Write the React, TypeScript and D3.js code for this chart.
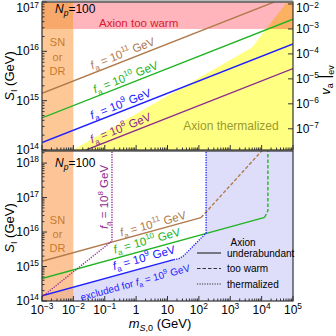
import React from 'react';
import * as d3 from 'd3';

// all curve data in log10 units: x = log10(m_S,0 / GeV), y = log10(S_I / GeV)
const faExponents = [11, 10, 9, 8];
const faColors = ['#b07a4c', '#22b422', '#2020ff', '#8e2a8e'];
const faIntercepts = [15.15, 14.65, 14.15, 13.65]; // log S_I at m = 1e-3 GeV
const faSlope = 0.25;

const xTickExps = [-3, -2, -1, 0, 1, 2, 3, 4, 5];
const topYTickExps = [14, 15, 16, 17];
const velTickExps = [-7, -6, -5, -4, -3, -2];
const botYTickExps = [14, 15, 16, 17, 18];

const snEdge = -2;
const warmVel = -3;
const thermalBoundary = [[-2.01, 14], [3.69, 16.08], [4.14, 16.45], [4.81, 17]];

// lower panel: where each curve stops being underabundant
const solidEnds = [2.07, 4.1, 1.2];
const brownWarm = [[2.07, 16.42], [4.1, 18.45]];
const greenWarm = [[4.1, 16.43], [4.2, 16.62], [4.2, 18.5]];
const blueTherm = [[1.2, 15.2], [1.35, 15.22], [1.5, 15.3], [2.23, 15.97], [2.23, 18.5]];
const purpleTherm = [[-3, 14.12], [-0.77, 15.74], [-0.77, 18.5]];

const font = 'Arial, "Liberation Sans", Helvetica, sans-serif';

const L = 42, R = 293;
const x = d3.scaleLinear().domain([-3, 5]).range([L, R]);
const yTop = d3.scaleLinear().domain([14, 17]).range([150, 2]);
const vel = d3.scaleLinear().domain([-7.85, -1.92]).range([150, 2]);
const yBot = d3.scaleLinear().domain([14, 18.35]).range([301, 151]);

const minus = (e: number) => (e < 0 ? '\u2212' + Math.abs(e) : String(e));

const Pow = ({ px, py, e, anchor = 'middle', size = 12, plain = false, rise = 5 }: any) => (
  <text x={px} y={py} textAnchor={anchor} fontSize={size} fontFamily={font} fill="#000">
    {plain && e === 0 ? '1' : plain && e === 1 ? '10' : (
      <>
        <tspan>10</tspan>
        <tspan dy={-rise} fontSize={size * 0.7}>{minus(e)}</tspan>
      </>
    )}
  </text>
);

const FaLabel = ({ e, color, tx, ty, angle, size = 11.5 }: any) => (
  <text transform={`translate(${tx},${ty}) rotate(${-angle})`} textAnchor="middle"
    fontSize={size} fontFamily={font} fill={color}>
    <tspan fontStyle="italic">f</tspan>
    <tspan dy={3} fontSize={size * 0.7}>a</tspan>
    <tspan dy={-3}> = 10</tspan>
    <tspan dy={-5} fontSize={size * 0.7}>{e}</tspan>
    <tspan dy={5}> GeV</tspan>
  </text>
);

const minorTicks = (lo: number, hi: number) => {
  const out: number[] = [];
  for (let e = lo; e < hi; e++) for (let k = 2; k < 10; k++) out.push(e + Math.log10(k));
  return out;
};

export default function App() {
  const lineTop = d3.line<number[]>().x(d => x(d[0])).y(d => yTop(d[1]));
  const lineBot = d3.line<number[]>().x(d => x(d[0])).y(d => yBot(d[1]));
  const faLine = (i: number, end: number) => [[-3, faIntercepts[i]], [end, faIntercepts[i] + faSlope * (end + 3)]];

  const angTop = (Math.atan(faSlope * 148 / 3 / (251 / 8)) * 180) / Math.PI;
  const angBot = (Math.atan(faSlope * 150 / 4.35 / (251 / 8)) * 180) / Math.PI;

  const thermPoly = [...thermalBoundary, [5, 17], [5, 14]];
  const warmY = vel(warmVel);

  const blueSolid = faLine(2, solidEnds[2]);
  const lavender = [[-3, 14], ...blueSolid, ...blueTherm, [5, 18.5], [5, 14]];

  const xMinor = minorTicks(-3, 5);
  const lw = 1.4;

  return (
    <svg width={336} height={336} style={{ position: 'absolute', left: 0, top: 0 }}>
      <defs>
        <clipPath id="cTop"><rect x={L} y={2} width={R - L} height={148} /></clipPath>
        <clipPath id="cBot"><rect x={L} y={151} width={R - L} height={150} /></clipPath>
        <clipPath id="cCold"><rect x={L} y={warmY} width={R - L} height={150 - warmY} /></clipPath>
        <clipPath id="cWarm"><rect x={L} y={2} width={R - L} height={warmY - 2} /></clipPath>
      </defs>
      <rect width={336} height={336} fill="#fff" />

      {/* ---------- top panel ---------- */}
      <g clipPath="url(#cTop)">
        <rect x={x(-3)} y={2} width={x(snEdge) - x(-3)} height={148} fill="#fdc896" />
        <rect x={x(snEdge)} y={2} width={R - x(snEdge)} height={warmY - 2} fill="#ffb5bb" />
        <rect x={x(-3)} y={2} width={x(snEdge) - x(-3)} height={warmY - 2} fill="#f8a86a" />
        <path d={lineTop(thermPoly as any) + 'Z'} fill="#ffff82" clipPath="url(#cCold)" />
        <path d={lineTop(thermPoly as any) + 'Z'} fill="#fbb062" clipPath="url(#cWarm)" />
        {faExponents.map((e, i) => (
          <path key={e} d={lineTop(faLine(i, 5) as any) || ''} fill="none" stroke={faColors[i]} strokeWidth={lw} />
        ))}
      </g>
      <rect x={L} y={2} width={R - L} height={148} fill="none" stroke="#333" strokeWidth={1.2} />
      <line x1={L} x2={R} y1={1.5} y2={1.5} stroke="#777" strokeWidth={2} />
      {topYTickExps.map(e => (
        <g key={e}>
          <line x1={L} x2={L + 5} y1={yTop(e)} y2={yTop(e)} stroke="#333" />
          <Pow px={L - 3} py={Math.max(yTop(e) + 4, 12)} e={e} anchor="end" rise={e === 17 ? 4 : 5} />
        </g>
      ))}
      {minorTicks(14, 17).map(v => (
        <line key={v} x1={L} x2={L + 2.5} y1={yTop(v)} y2={yTop(v)} stroke="#333" />
      ))}
      {velTickExps.map(e => (
        <g key={e}>
          <line x1={R - 5} x2={R} y1={vel(e)} y2={vel(e)} stroke="#333" />
          <Pow px={R + 3} py={Math.max(vel(e) + 4, 12)} e={e} anchor="start" rise={e === -2 ? 4 : 5} />
        </g>
      ))}
      {xTickExps.map(e => (
        <line key={e} x1={x(e)} x2={x(e)} y1={150} y2={145} stroke="#333" />
      ))}
      {xMinor.map(v => (
        <line key={v} x1={x(v)} x2={x(v)} y1={150} y2={147.5} stroke="#333" />
      ))}

      <text x={55} y={13} fontSize={12} fontFamily={font}>
        <tspan fontStyle="italic">N</tspan>
        <tspan dy={3} fontSize={8.5} fontStyle="italic">p</tspan>
        <tspan dy={-3}>=100</tspan>
      </text>
      <text x={99} y={27} fontSize={11.5} fontFamily={font} fill="#d81a32">Axion too warm</text>
      {['SN', 'or', 'DR'].map((t, i) => (
        <text key={t} x={57.5} y={46 + i * 14.5} textAnchor="middle" fontSize={11} fontFamily={font} fill="#c77a2e">{t}</text>
      ))}
      <text x={231} y={130} textAnchor="middle" fontSize={12} fontFamily={font} fill="#9a9a2e">Axion thermalized</text>
      {[[124, 4], [127, 3.5], [122, 3.5], [122, 4]].map(([cx, off], i) => {
        const lm = x.invert(cx);
        const ly = yTop(faIntercepts[i] + faSlope * (lm + 3));
        return <FaLabel key={i} e={faExponents[i]} color={faColors[i]} tx={cx} ty={ly - off} angle={angTop} />;
      })}

      {/* ---------- bottom panel ---------- */}
      <g clipPath="url(#cBot)">
        <path d={lineBot(lavender as any) + 'Z'} fill="#dedefa" />
        <rect x={x(-3)} y={151} width={x(snEdge) - x(-3)} height={150} fill="#fca257" opacity={0.62} />
        {[0, 1, 2].map(i => (
          <path key={i} d={lineBot(faLine(i, solidEnds[i]) as any) || ''} fill="none" stroke={faColors[i]} strokeWidth={lw} />
        ))}
        <path d={lineBot(brownWarm as any) || ''} fill="none" stroke={faColors[0]} strokeWidth={lw} strokeDasharray="3.5,2" />
        <path d={lineBot(greenWarm as any) || ''} fill="none" stroke={faColors[1]} strokeWidth={lw} strokeDasharray="3.5,2" />
        <path d={lineBot(blueTherm as any) || ''} fill="none" stroke={faColors[2]} strokeWidth={lw} strokeDasharray="1.2,1.3" />
        <path d={lineBot(purpleTherm as any) || ''} fill="none" stroke={faColors[3]} strokeWidth={lw} strokeDasharray="1.2,1.3" />
      </g>
      <rect x={L} y={151} width={R - L} height={150} fill="none" stroke="#333" strokeWidth={1.2} />
      {botYTickExps.map(e => (
        <g key={e}>
          <line x1={L} x2={L + 5} y1={yBot(e)} y2={yBot(e)} stroke="#333" />
          <Pow px={L - 3} py={yBot(e) + 4} e={e} anchor="end" />
        </g>
      ))}
      {minorTicks(14, 18).concat([18.301]).map(v => (
        <line key={v} x1={L} x2={L + 2.5} y1={yBot(v)} y2={yBot(v)} stroke="#333" />
      ))}
      {xTickExps.map(e => (
        <g key={e}>
          <line x1={x(e)} x2={x(e)} y1={301} y2={296} stroke="#333" />
          <Pow px={x(e)} py={314} e={e} plain />
        </g>
      ))}
      {xMinor.map(v => (
        <line key={v} x1={x(v)} x2={x(v)} y1={301} y2={298.5} stroke="#333" />
      ))}

      <text x={55} y={167} fontSize={12} fontFamily={font}>
        <tspan fontStyle="italic">N</tspan>
        <tspan dy={3} fontSize={8.5} fontStyle="italic">p</tspan>
        <tspan dy={-3}>=100</tspan>
      </text>
      {['SN', 'or', 'DR'].map((t, i) => (
        <text key={t} x={57.5} y={224 + i * 14} textAnchor="middle" fontSize={11} fontFamily={font} fill="#c77a2e">{t}</text>
      ))}
      <text transform="translate(108,197) rotate(-90)" textAnchor="middle" fontSize={11.5} fontFamily={font} fill={faColors[3]}>
        <tspan fontStyle="italic">f</tspan>
        <tspan dy={3} fontSize={8}>a</tspan>
        <tspan dy={-3}> = 10</tspan>
        <tspan dy={-5} fontSize={8}>8</tspan>
        <tspan dy={5}> GeV</tspan>
      </text>
      {[[154, 3], [148, 5], [145, 6]].map(([cx, off], i) => {
        const lm = x.invert(cx);
        const ly = yBot(faIntercepts[i] + faSlope * (lm + 3));
        return <FaLabel key={i} e={faExponents[i]} color={faColors[i]} tx={cx} ty={ly - off} angle={angBot} />;
      })}
      <text transform={`translate(136,286) rotate(${-angBot})`} textAnchor="middle" fontSize={10} fontFamily={font} fill={faColors[2]}>
        <tspan>excluded for </tspan>
        <tspan fontStyle="italic">f</tspan>
        <tspan dy={2.5} fontSize={7}>a</tspan>
        <tspan dy={-2.5}> = 10</tspan>
        <tspan dy={-4} fontSize={7}>9</tspan>
        <tspan dy={4}> GeV</tspan>
      </text>

      {/* legend */}
      <text x={243} y={246} textAnchor="middle" fontSize={10} fontFamily={font}>Axion</text>
      {['underabundant', 'too warm', 'thermalized'].map((t, i) => (
        <g key={t}>
          <line x1={197} x2={221} y1={253 + i * 15.5} y2={253 + i * 15.5} stroke="#333" strokeWidth={1.2}
            strokeDasharray={i === 0 ? undefined : i === 1 ? '3.5,2' : '1.2,1.3'} />
          <text x={227} y={256.5 + i * 15.5} fontSize={10} fontFamily={font}>{t}</text>
        </g>
      ))}

      {/* axis titles */}
      <text x={160} y={328} textAnchor="middle" fontSize={13} fontFamily={font}>
        <tspan fontStyle="italic">m</tspan>
        <tspan dy={3} fontSize={9}><tspan fontStyle="italic">S</tspan>,0</tspan>
        <tspan dy={-3}> (GeV)</tspan>
      </text>
      {[76, 228].map(cy => (
        <text key={cy} transform={`translate(14,${cy}) rotate(-90)`} textAnchor="middle" fontSize={13} fontFamily={font}>
          <tspan fontStyle="italic">S</tspan>
          <tspan dy={3} fontSize={9}>I</tspan>
          <tspan dy={-3}> (GeV)</tspan>
        </text>
      ))}
      <text transform="translate(330,80) rotate(-90)" textAnchor="middle" fontSize={13} fontFamily={font}>
        <tspan fontStyle="italic">v</tspan>
        <tspan dy={3} fontSize={9}>a</tspan>
        <tspan dy={-3} fontSize={16}> |</tspan>
        <tspan dy={4} fontSize={9}>ev</tspan>
      </text>
    </svg>
  );
}
